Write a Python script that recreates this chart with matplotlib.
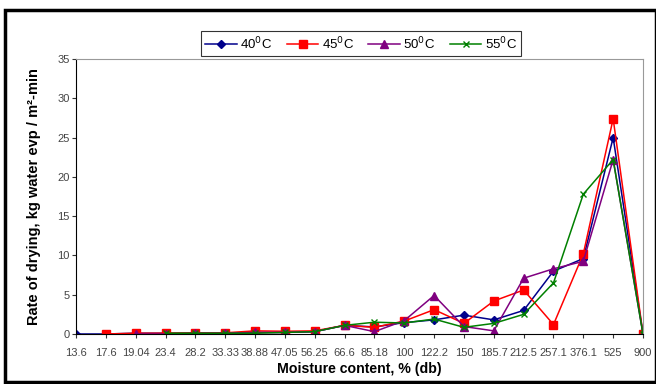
import matplotlib
matplotlib.use('Agg')
import matplotlib.pyplot as plt
import numpy as np

plt.rcParams['font.family'] = ['Liberation Sans', 'DejaVu Sans']

moisture = ['13.6', '17.6', '19.04', '23.4', '28.2', '33.33', '38.88', '47.05', '56.25', '66.6',
            '85.18', '100', '122.2', '150', '185.7', '212.5', '257.1', '376.1', '525', '900']
nan = np.nan
rate_40 = [0.0, 0.0, 0.1, 0.1, 0.1, 0.1, 0.2, 0.2, 0.3, 1.1,
           0.9, 1.45, 1.8, 2.4, 1.8, 3.0, 8.0, 9.6, 25.0, 0.0]
rate_45 = [nan, 0.0, 0.1, 0.1, 0.15, 0.15, 0.4, 0.35, 0.4, 1.1,
           0.85, 1.65, 3.1, 1.35, 4.2, 5.6, 1.2, 10.2, 27.4, 0.0]
rate_50 = [nan, nan, 0.0, 0.0, 0.1, 0.1, 0.2, 0.2, 0.3, 1.1,
           0.3, 1.7, 4.9, 0.95, 0.4, 7.1, 8.3, 9.25, 22.2, 0.0]
rate_55 = [nan, nan, nan, 0.1, 0.1, 0.1, 0.1, 0.2, 0.3, 1.1,
           1.5, 1.4, 1.9, 0.85, 1.35, 2.5, 6.5, 17.8, 22.2, 0.0]

fig = plt.figure(figsize=(6.56, 3.84), dpi=100)
ax = fig.add_axes([76/656, 1 - 334/384, (643 - 76)/656, (334 - 59)/384])

x = np.arange(len(moisture))
series = [
    (rate_40, '40$^{0}$C', '#00008B', 'D', 4),
    (rate_45, '45$^{0}$C', '#FF0000', 's', 6),
    (rate_50, '50$^{0}$C', '#800080', '^', 6),
    (rate_55, '55$^{0}$C', '#008000', 'x', 5),
]
for vals, lab, col, mk, ms in series:
    v = np.array(vals, dtype=float)
    m = ~np.isnan(v)
    ax.plot(x[m], v[m], color=col, marker=mk, markersize=ms, linewidth=1.1, label=lab)

ax.set_xlim(0, len(moisture) - 1)
ax.set_ylim(0, 35)
ax.set_yticks(range(0, 36, 5))
ax.set_xticks(x)
ax.set_xticklabels(moisture)
ax.tick_params(axis='both', labelsize=8, labelcolor='#444444', color='#333333', length=3, direction='out')
ax.tick_params(axis='x', pad=7)
ax.tick_params(axis='y', pad=1.5)
for side in ['top', 'right']:
    ax.spines[side].set_color('#999999')
for side in ['left', 'bottom']:
    ax.spines[side].set_color('black')

ax.set_xlabel('Moisture content, % (db)', fontsize=10.2, fontweight='bold', labelpad=3)
ax.set_ylabel('Rate of drying, kg water evp / m²-min', fontsize=10.5, fontweight='bold', labelpad=12)

leg = fig.legend(loc='center', bbox_to_anchor=(361/656, 1 - 43.5/384), ncol=4, fontsize=9.5,
                 frameon=True, fancybox=False, edgecolor='black', handlelength=2.4,
                 columnspacing=1.1, handletextpad=0.25, borderpad=0.3)
leg.get_frame().set_linewidth(0.8)

fig.patches.append(plt.Rectangle((5/656, 0.005), 1 - 5/656, 1 - 10/384 - 0.005, transform=fig.transFigure,
                                 fill=False, edgecolor='black', linewidth=2.5))

fig.savefig('out.png', dpi=100)
